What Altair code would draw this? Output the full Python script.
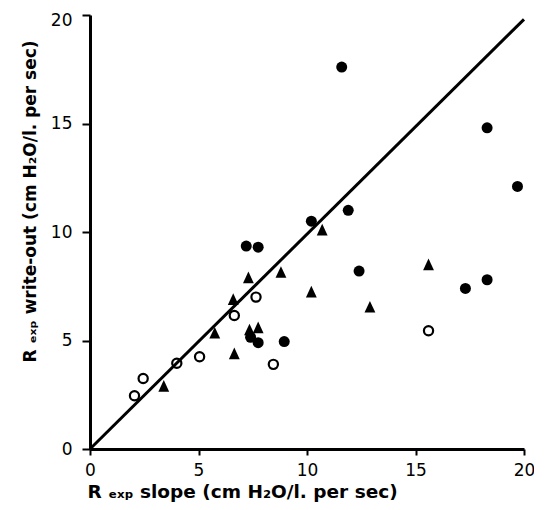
import altair as alt
import pandas as pd

# Filled circles
fc_x = [11.6, 18.3, 19.7, 10.2, 11.9, 7.2, 7.75, 12.4, 17.3, 18.3, 8.95, 7.4, 7.75]
fc_y = [17.6, 14.8, 12.1, 10.5, 11.0, 9.35, 9.3, 8.2, 7.4, 7.8, 4.95, 5.15, 4.9]

# Filled triangles
tr_x = [10.7, 8.8, 7.3, 6.6, 10.2, 15.6, 12.9, 5.75, 6.65, 7.35, 7.75, 3.4]
tr_y = [10.1, 8.15, 7.9, 6.9, 7.25, 8.5, 6.55, 5.35, 4.4, 5.5, 5.6, 2.9]

# Open circles
oc_x = [2.05, 2.45, 4.0, 5.05, 6.65, 7.65, 8.45, 15.6]
oc_y = [2.45, 3.25, 3.95, 4.25, 6.15, 7.0, 3.9, 5.45]

# Line of identity
line_x = [0, 20]
line_y = [0, 19.8]

ticks = [0, 5, 10, 15, 20]

fc = pd.DataFrame({"x": fc_x, "y": fc_y})
tr = pd.DataFrame({"x": tr_x, "y": tr_y})
oc = pd.DataFrame({"x": oc_x, "y": oc_y})
ln = pd.DataFrame({"x": line_x, "y": line_y})

FONT = "DejaVu Sans"

xs = alt.Scale(domain=[0, 20], nice=False, zero=False)
ys = alt.Scale(domain=[0, 20], nice=False, zero=False)

xaxis = alt.Axis(
    values=ticks, grid=False, tickSize=6, tickWidth=2, tickColor="black",
    domainWidth=3, domainColor="black", labelFontSize=17, labelFont=FONT,
    labelColor="black", labelPadding=7, labelFlush=False,
    title="R ₑₓₚ slope (cm H₂O/l. per sec)", titleFont=FONT, titleFontSize=18.5,
    titleFontWeight="bold", titleColor="black", titleAnchor="start",
    titleAlign="left", titleX=-3, titleY=48, titleBaseline="alphabetic",
)
yaxis = alt.Axis(
    values=ticks, grid=False, tickSize=8, tickWidth=2, tickColor="black",
    domainWidth=3, domainColor="black", labelFontSize=17, labelFont=FONT,
    labelColor="black", labelPadding=10, labelFlush=False,
    labelOffset={"condition": {"test": "datum.value == 20", "value": 5}, "value": 0},
    title="R ₑₓₚ write-out (cm H₂O/l. per sec)", titleFont=FONT, titleFontSize=17,
    titleFontWeight="bold", titleColor="black", titleAngle=-90,
    titleAlign="center", titleBaseline="middle", titleX=-60, titleY=186,
)

base_x = alt.X("x:Q", scale=xs, axis=xaxis)
base_y = alt.Y("y:Q", scale=ys, axis=yaxis)

line = alt.Chart(ln).mark_line(color="black", strokeWidth=3).encode(x=base_x, y=base_y)

filled = alt.Chart(fc).mark_point(
    shape="circle", filled=True, color="black", size=121, opacity=1
).encode(x="x:Q", y="y:Q")

tri = alt.Chart(tr).mark_point(
    shape="M0,-1.05L-0.95,1L0.95,1Z", filled=True, color="black", size=130, opacity=1
).encode(x="x:Q", y="y:Q")

openc = alt.Chart(oc).mark_point(
    shape="circle", filled=False, stroke="black", strokeWidth=2.2, size=85, opacity=1,
    fill="white", fillOpacity=0
).encode(x="x:Q", y="y:Q")

chart = alt.layer(line, filled, tri, openc).properties(
    width=434, height=434,
    autosize=alt.AutoSizeParams(type="none"),
    padding={"left": 82, "top": 7, "right": 10, "bottom": 53},
    background="white",
).configure_view(stroke=None)

chart.save("out.html", embed_options={"renderer": "svg", "actions": False})
